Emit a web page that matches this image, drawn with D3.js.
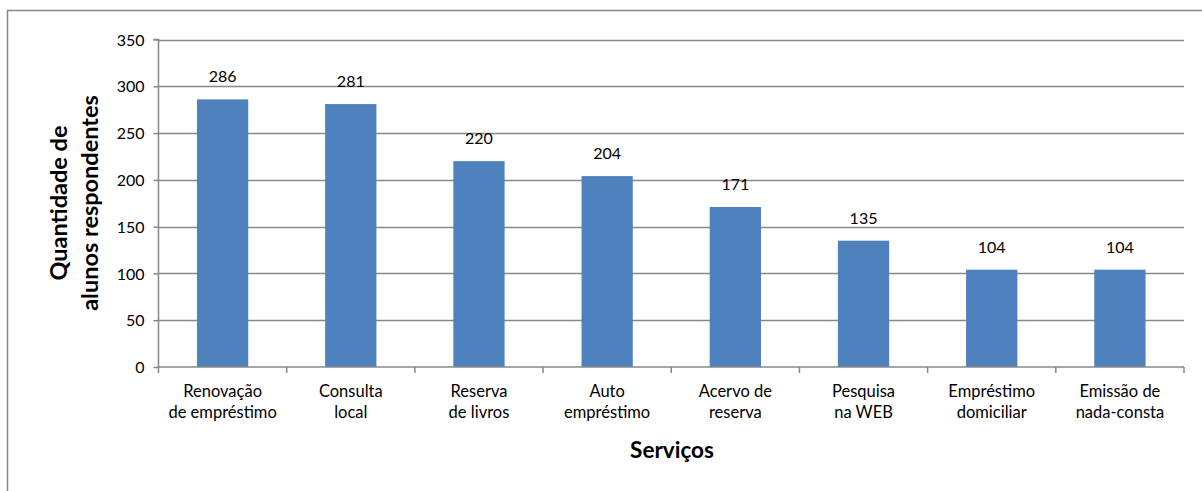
<!DOCTYPE html>
<html><head><meta charset="utf-8">
<script src="https://cdn.jsdelivr.net/npm/d3@7"></script>
<style>body{margin:0;background:#fff}svg{display:block}text{font-family:Lato,sans-serif;fill:#000}</style>
</head><body><svg id="c" width="1202" height="491"></svg>
<script>
const categories = [["Renovação","de empréstimo"],["Consulta","local"],["Reserva","de livros"],["Auto","empréstimo"],["Acervo de","reserva"],["Pesquisa","na WEB"],["Empréstimo","domiciliar"],["Emissão de","nada-consta"]];
const values = [286,281,220,204,171,135,104,104];
const yTicks = [0,50,100,150,200,250,300,350];
const yTitle = ["Quantidade de","alunos respondentes"];
const xTitle = "Serviços";

const FONT = "Lato,sans-serif";
const svg = d3.select("#c");
const L=158.5, R=1184, T=39.5, B=367;
svg.append("rect").attr("x",7.5).attr("y",10.5).attr("width",1300).attr("height",600).attr("fill","#fff").attr("stroke","#868686").attr("stroke-width",1.5);

const x = d3.scaleBand().domain(d3.range(categories.length)).range([L,R]).paddingInner(0.6).paddingOuter(0.3);
const xb = d3.scaleBand().domain(d3.range(categories.length)).range([L,R]);
const y = d3.scaleLinear().domain([0,350]).range([B,T]);

svg.append("g").selectAll("line").data(yTicks.slice(1)).join("line")
  .attr("x1",L).attr("x2",R).attr("y1",d=>Math.round(y(d))+0.5).attr("y2",d=>Math.round(y(d))+0.5)
  .attr("stroke","#888").attr("stroke-width",1.5);

svg.append("g").selectAll("rect").data(values).join("rect")
  .attr("x",(d,i)=>x(i)).attr("width",x.bandwidth())
  .attr("y",d=>y(d)).attr("height",d=>B-y(d)).attr("fill","#4F81BD");

const ya = d3.axisLeft(y).tickValues(yTicks).tickSize(5).tickPadding(9);
const gy = svg.append("g").attr("transform",`translate(${L},0)`).call(ya);
gy.select(".domain").attr("stroke","#888").attr("stroke-width",1.5).attr("d",`M-5,${T}H0V${B}`);
gy.selectAll(".tick line").attr("stroke","#888").attr("stroke-width",1.5);
gy.selectAll(".tick text").attr("font-size","16px").attr("font-family",FONT).attr("fill","#000").attr("dy","0.35em");

const gx = svg.append("g").attr("transform",`translate(0,${B})`);
gx.append("line").attr("x1",L).attr("x2",R).attr("y1",0).attr("y2",0).attr("stroke","#888").attr("stroke-width",1.5);
gx.selectAll("line.t").data(d3.range(categories.length+1)).join("line").attr("class","t")
  .attr("x1",i=>i<categories.length?xb(i):R).attr("x2",i=>i<categories.length?xb(i):R)
  .attr("y1",0).attr("y2",6).attr("stroke","#888").attr("stroke-width",1.5);
const lab = gx.selectAll("text").data(categories).join("text")
  .attr("text-anchor","middle").attr("font-size","16.5px")
  .attr("transform",(d,i)=>`translate(${xb(i)+xb.bandwidth()/2},30)`);
lab.selectAll("tspan").data(d=>d).join("tspan").attr("x",0).attr("dy",(d,j)=>j?21:0).text(d=>d);

svg.append("g").selectAll("text").data(values).join("text")
  .attr("x",(d,i)=>x(i)+x.bandwidth()/2).attr("y",d=>y(d)-17)
  .attr("text-anchor","middle").attr("font-size","16px").text(d=>d);

const yt = svg.append("text").attr("transform",`translate(0,203) rotate(-90)`)
  .attr("text-anchor","middle").attr("font-size","23.5px").attr("font-weight","bold");
yt.selectAll("tspan").data(yTitle).join("tspan").attr("x",0).attr("y",(d,i)=>i?98:67).text(d=>d);

svg.append("text").attr("x",672).attr("y",458).attr("text-anchor","middle")
  .attr("font-size","22.5px").attr("font-weight","bold").text(xTitle);
</script></body></html>
